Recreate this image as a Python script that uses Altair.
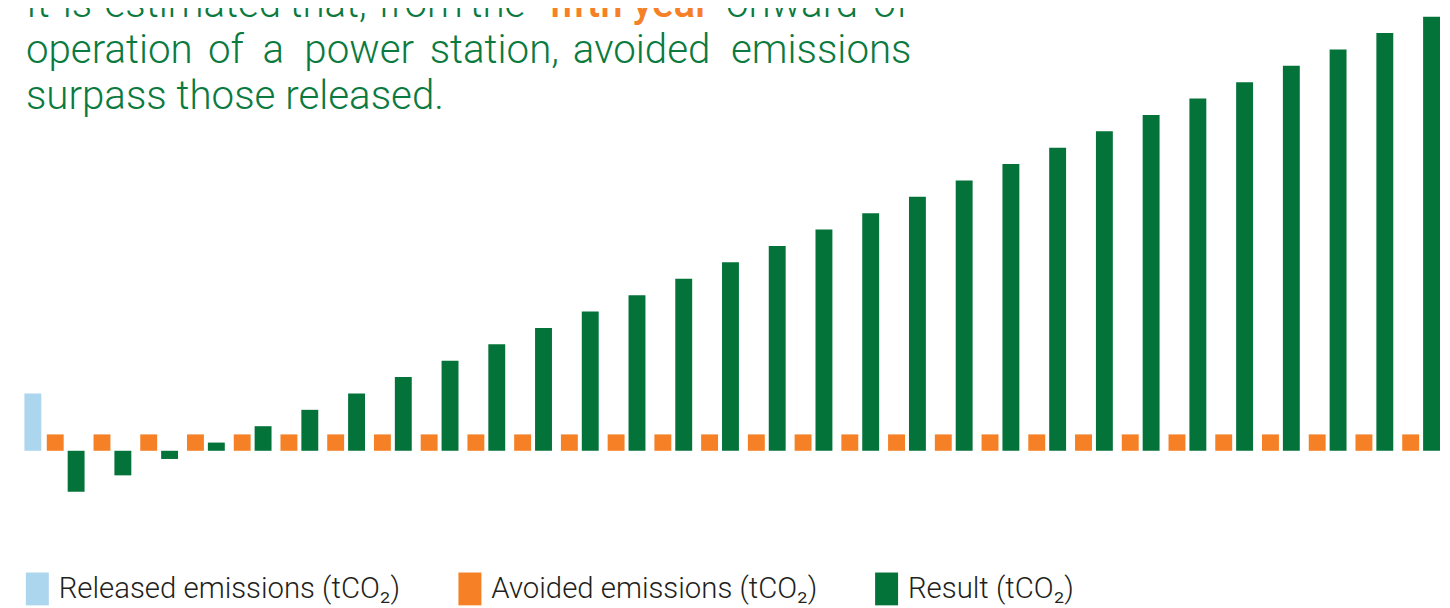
import altair as alt
import pandas as pd

# ---------------- data ----------------
YEARS = [1, 2, 3, 4, 5, 6, 7, 8, 9, 10, 11, 12, 13, 14, 15,
         16, 17, 18, 19, 20, 21, 22, 23, 24, 25, 26, 27, 28, 29, 30]
RELEASED = [3.5]  # only in year 1
AVOIDED = [1.0, 1.0, 1.0, 1.0, 1.0, 1.0, 1.0, 1.0, 1.0, 1.0,
           1.0, 1.0, 1.0, 1.0, 1.0, 1.0, 1.0, 1.0, 1.0, 1.0,
           1.0, 1.0, 1.0, 1.0, 1.0, 1.0, 1.0, 1.0, 1.0, 1.0]
RESULT = [-2.5, -1.5, -0.5, 0.5, 1.5, 2.5, 3.5, 4.5, 5.5, 6.5,
          7.5, 8.5, 9.5, 10.5, 11.5, 12.5, 13.5, 14.5, 15.5, 16.5,
          17.5, 18.5, 19.5, 20.5, 21.5, 22.5, 23.5, 24.5, 25.5, 26.5]

REL = "Released emissions (tCO\u2082)"
AVO = "Avoided emissions (tCO\u2082)"
RES = "Result (tCO\u2082)"
SERIES = [REL, AVO, RES]
COLORS = ["#acd5ee", "#f58025", "#04733a"]

GREEN_TXT = "#0b7a40"
ORANGE_TXT = "#f58025"

# ---------------- tables ----------------
bars_df = pd.DataFrame({
    "year": YEARS + YEARS,
    "series": [AVO] * len(YEARS) + [RES] * len(YEARS),
    "value": AVOIDED + RESULT,
})
rel_df = pd.DataFrame({"year": YEARS[:1], "series": [REL], "value": RELEASED})

x_scale = alt.Scale(domain=YEARS, paddingInner=9 / 47, paddingOuter=0)
y_scale = alt.Scale(domain=[-3, 26.5], nice=False, zero=False)
color = alt.Color(
    "series:N",
    scale=alt.Scale(domain=SERIES, range=COLORS),
    legend=alt.Legend(
        title=None, orient="none", legendX=-26, legendY=559,
        direction="horizontal",
        symbolType="M-0.7,-1H0.7V1H-0.7Z", symbolSize=1089,
        symbolStrokeWidth=0, symbolOpacity=1,
        labelFont="Roboto", labelFontSize=29.5, labelFontWeight=300,
        labelColor="#231f20", labelOffset=5, columnPadding=53, labelLimit=0,
    ),
)

main = alt.Chart(bars_df).mark_bar().encode(
    x=alt.X("year:O", scale=x_scale, axis=None),
    xOffset=alt.XOffset("series:N", scale=alt.Scale(domain=[AVO, RES], paddingInner=4 / 21, paddingOuter=0)),
    y=alt.Y("value:Q", scale=y_scale, axis=None, stack=None),
    color=color,
)

rel = alt.Chart(rel_df).mark_bar(width=17, xOffset=-33).encode(
    x=alt.X("year:O", scale=x_scale, axis=None),
    y=alt.Y("value:Q", scale=y_scale, axis=None, stack=None),
    color=color,
)

# ---------------- headline text (justified by word placement) ----------------
# (word, x, y, color, weight) in plot pixel coordinates
WORDS = [
    ("It", -21, 0, GREEN_TXT, 300), ("is", 16, 0, GREEN_TXT, 300),
    ("estimated", 58, 0, GREEN_TXT, 300), ("that,", 244, 0, GREEN_TXT, 300),
    ("from", 333, 0, GREEN_TXT, 300), ("the", 425, 0, GREEN_TXT, 300),
    ("fifth year", 505, 0, ORANGE_TXT, 500),
    ("onward", 683, 0, GREEN_TXT, 300), ("of", 831, 0, GREEN_TXT, 300),
    ("operation", -21, 47, GREEN_TXT, 300), ("of", 162, 47, GREEN_TXT, 300),
    ("a", 217, 47, GREEN_TXT, 300), ("power", 259, 47, GREEN_TXT, 300),
    ("station,", 385, 47, GREEN_TXT, 300), ("avoided", 529, 47, GREEN_TXT, 300),
    ("emissions", 688, 47, GREEN_TXT, 300),
    ("surpass those released.", -21, 93, GREEN_TXT, 300),
]

text_layers = []
for w, px, py, col, wt in WORDS:
    text_layers.append(
        alt.Chart(pd.DataFrame({"t": [w]})).mark_text(
            x=px, y=py, align="left", baseline="alphabetic",
            font="Roboto", fontSize=40.5, fontWeight=wt, color=col,
        ).encode(text="t:N")
    )

chart = alt.layer(main, rel, *text_layers).properties(
    width=1401, height=486,
    autosize=alt.AutoSizeParams(type="none"),
    padding={"left": 39, "top": 7, "right": 2, "bottom": 107},
    background="white",
).configure_view(stroke=None)

chart.save("out.html", embed_options={"renderer": "svg", "actions": False})
